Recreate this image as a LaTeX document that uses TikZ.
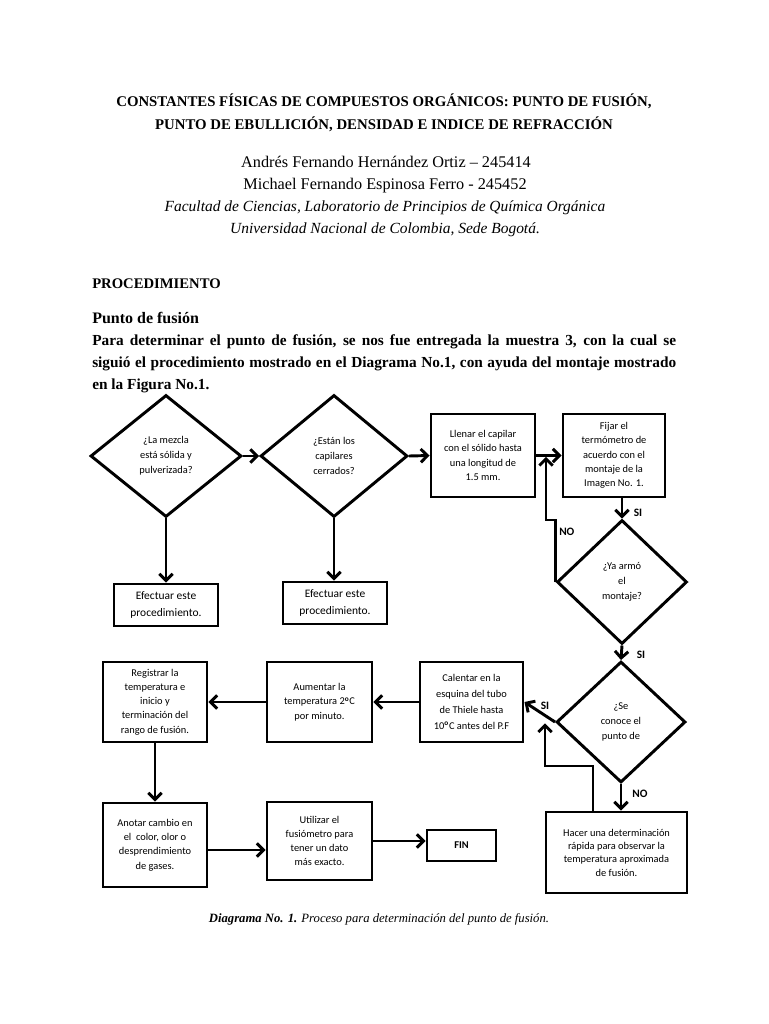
\documentclass[tikz,border=0pt]{standalone}
\usepackage{fontspec}
\setmainfont{Liberation Serif}
\newfontfamily\dfont{Carlito}
\usetikzlibrary{shapes.geometric,arrows.meta}
\begin{document}
\begin{tikzpicture}[x=0.75pt,y=-0.75pt,
  lw/.style={line width=2.2pt},
  box/.style={draw,lw,rectangle,inner sep=1pt,align=center,font=\dfont\fontsize{7.8}{10.7}\selectfont},
  dia/.style={draw,lw,diamond,inner sep=0pt,align=center,font=\dfont\fontsize{7.8}{11.25}\selectfont},
  arr/.style={lw,-{Straight Barb[length=5pt,width=10pt]}},
  lab/.style={font=\dfont\bfseries\fontsize{8.5}{9}\selectfont,inner sep=0pt},
  hdr/.style={anchor=base,inner sep=0pt},
  txt/.style={anchor=base west,inner sep=0pt},
  ]
\useasboundingbox (0,0) rectangle (768,1024);
% header
\node[hdr,font=\bfseries\fontsize{11.1}{12}\selectfont] (t1) at (384,107) {CONSTANTES FÍSICAS DE COMPUESTOS ORGÁNICOS: PUNTO DE FUSIÓN,};
\node[hdr,font=\bfseries\fontsize{11.1}{12}\selectfont] (t2) at (384,129) {PUNTO DE EBULLICIÓN, DENSIDAD E INDICE DE REFRACCIÓN};
\node[hdr,font=\fontsize{12.2}{13}\selectfont] (a1) at (386,167) {Andrés Fernando Hernández Ortiz – 245414};
\node[hdr,font=\fontsize{12.2}{13}\selectfont] (a2) at (385,189) {Michael Fernando Espinosa Ferro - 245452};
\node[hdr,font=\itshape\fontsize{11.6}{13}\selectfont] (f1) at (385,211) {Facultad de Ciencias, Laboratorio de Principios de Química Orgánica};
\node[hdr,font=\itshape\fontsize{11.6}{13}\selectfont] (f2) at (385,233) {Universidad Nacional de Colombia, Sede Bogotá.};
\node[txt,font=\bfseries\fontsize{11}{13}\selectfont] (proc) at (92,288) {PROCEDIMIENTO};
\node[txt,font=\bfseries\fontsize{12}{14}\selectfont] (pf) at (92,323) {Punto de fusión};
\node[txt,font=\bfseries\fontsize{11.5}{13}\selectfont] (p1) at (92,345) {\makebox[438pt][s]{Para determinar el punto de fusión, se nos fue entregada la muestra 3, con la cual se}};
\node[txt,font=\bfseries\fontsize{11.5}{13}\selectfont] (p2) at (92,367) {\makebox[438pt][s]{siguió el procedimiento mostrado en el Diagrama No.1, con ayuda del montaje mostrado}};
\node[txt,font=\bfseries\fontsize{11.5}{13}\selectfont] (p3) at (92,389) {en la Figura No.1.};
% diamonds
\node[dia,minimum width=113.25pt,minimum height=91.5pt] (d1) at (166,456) {¿La mezcla\\está sólida y\\pulverizada?};
\node[dia,minimum width=110.25pt,minimum height=91.5pt] (d2) at (334,456) {¿Están los\\capilares\\cerrados?};
\node[dia,minimum width=97.5pt,minimum height=93pt] (d3) at (622,582) {¿Ya armó\\el\\montaje?};
\node[dia,minimum width=96.75pt,minimum height=90.75pt] (d4) at (621,722) {¿Se\\conoce el\\punto de};
% boxes
\node[box,minimum width=78pt,minimum height=31.5pt,font=\dfont\fontsize{8.6}{12.8}\selectfont] (e1) at (166,605) {Efectuar este\\procedimiento.};
\node[box,minimum width=78pt,minimum height=31.5pt,font=\dfont\fontsize{8.6}{12.8}\selectfont] (e2) at (335,603) {Efectuar este\\procedimiento.};
\node[box,minimum width=78pt,minimum height=62.25pt] (llenar) at (483,455.5) {Llenar el capilar\\con el sólido hasta\\una longitud de\\1.5 mm.};
\node[box,minimum width=76.5pt,minimum height=62.25pt] (fijar) at (614,455.5) {Fijar el\\termómetro de\\acuerdo con el\\montaje de la\\Imagen No. 1.};
\node[box,minimum width=77.25pt,minimum height=60pt,font=\dfont\fontsize{7.8}{12}\selectfont] (calentar) at (471.5,702) {Calentar en la\\esquina del tubo\\de Thiele hasta\\10\textsuperscript{\bfseries o}C antes del P.F};
\node[box,minimum width=78.75pt,minimum height=60pt] (aumentar) at (319.5,702) {Aumentar la\\temperatura 2\textsuperscript{\bfseries o}C\\por minuto.};
\node[box,minimum width=78pt,minimum height=60pt] (registrar) at (155,702) {Registrar la\\temperatura e\\inicio y\\terminación del\\rango de fusión.};
\node[box,minimum width=78pt,minimum height=63pt] (anotar) at (155,845) {Anotar cambio en\\el\ \ color, olor o\\desprendimiento\\de gases.};
\node[box,minimum width=78.75pt,minimum height=58.5pt] (utilizar) at (319.5,841) {Utilizar el\\fusiómetro para\\tener un dato\\más exacto.};
\node[box,minimum width=51.75pt,minimum height=23.25pt,font=\dfont\bfseries\fontsize{7.8}{10}\selectfont] (fin) at (461.5,845.5) {FIN};
\node[box,minimum width=105.75pt,minimum height=60.75pt,font=\dfont\fontsize{7.8}{10}\selectfont] (hacer) at (616.5,852.5) {Hacer una determinación\\rápida para observar la\\temperatura aproximada\\de fusión.};
% connectors
\draw[arr] (d1.east) -- (d2.west);
\draw[arr] (d1.south) -- (e1.north);
\draw[arr] (d2.south) -- (d2.south |- e2.north);
\draw[arr] (d2.east) -- (llenar.west);
\draw[arr] (llenar.east) -- (fijar.west);
\draw[arr] (d3.north |- fijar.south) -- (d3.north);
\node[lab] (si1) at (638,513) {SI};
\coordinate (j1) at (546,520);
\draw[arr,shorten >=1pt] (d3.west) |- (j1) -- (j1 |- llenar.east);
\node[lab,anchor=west] (no1) at (559,532) {NO};
\draw[arr] (d3.south) -- (d4.north);
\node[lab] (si2) at (641,655) {SI};
\draw[arr] (d4.west) -- (calentar.east);
\node[lab] (si3) at (545,706) {SI};
\draw[arr] (d4.south) -- (d4.south |- hacer.north);
\node[lab] (no2) at (640,794) {NO};
\coordinate (h1) at (593,812);
\coordinate (j2) at (545,766);
\draw[arr,shorten >=1pt] (h1) |- (j2) -- (j2 |- d4.west);
\draw[arr] (calentar.west) -- (aumentar.east);
\draw[arr] (aumentar.west) -- (registrar.east);
\draw[arr] (registrar.south) -- (anotar.north);
\coordinate (an1) at ([yshift=-3.75pt]anotar.east);
\draw[arr] (an1) -- (an1 -| utilizar.west);
\draw[arr] (utilizar.east) -- (utilizar.east -| fin.west);
% caption
\node[hdr,font=\fontsize{9.5}{11}\selectfont] (cap) at (379,922) {\textbf{\textit{Diagrama No. 1.}} \textit{Proceso para determinación del punto de fusión.}};
\end{tikzpicture}
\end{document}
